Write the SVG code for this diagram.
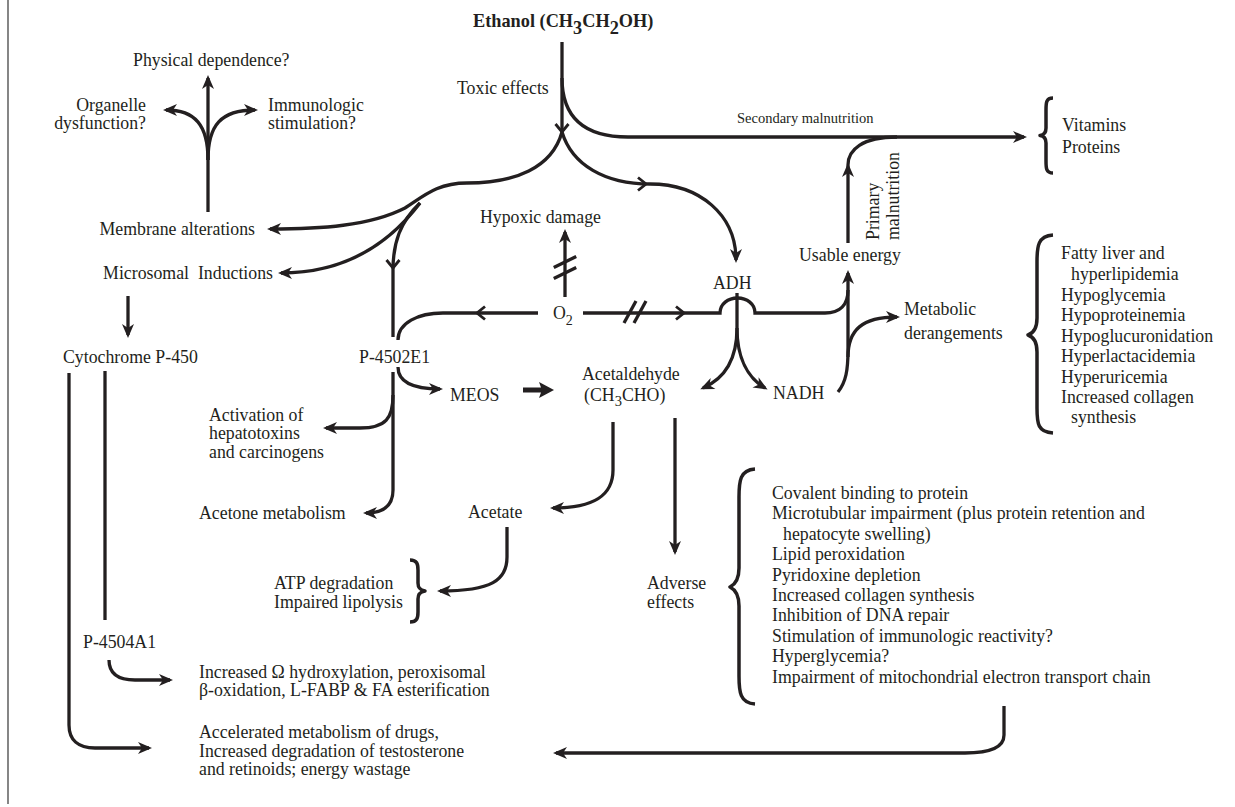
<svg xmlns="http://www.w3.org/2000/svg" xmlns:xlink="http://www.w3.org/1999/xlink" width="1235" height="807" viewBox="0 0 1235 807">
<style>
text{font-family:"Liberation Serif","Times New Roman",serif;font-size:17.8px;fill:#231f20}
.b{font-weight:bold;font-size:18.3px}
.s{font-size:14.5px}
.e{text-anchor:end}
.ln{fill:none;stroke:#231f20;stroke-width:3.3}
.ar{marker-end:url(#ah)}
.br{fill:none;stroke:#231f20;stroke-width:3.5;stroke-linejoin:round}
</style>
<defs>
<marker id="ah" viewBox="-14 -8 18 16" markerWidth="18" markerHeight="16" refX="0" refY="0" orient="auto" markerUnits="userSpaceOnUse">
<path d="M3,0 L-11,-6 L-7,0 L-11,6 z" fill="#231f20"/>
</marker>
<path id="head" d="M3,0 L-11,-6 L-7,0 L-11,6 z" fill="#231f20"/>
<path id="chev" d="M-8,-6.5 L0,0 L-8,6.5" fill="none" stroke="#231f20" stroke-width="2.8"/>
<path id="sl" d="M-6,11 L6,-11" fill="none" stroke="#231f20" stroke-width="3.3"/>
</defs>
<rect width="1235" height="807" fill="#fff"/>
<line x1="8" y1="0" x2="8" y2="804" stroke="#444" stroke-width="1.3"/>

<g id="connectors">
<path class="ln" d="M562,42 L562,132"/>
<use xlink:href="#chev" transform="translate(562,132) rotate(90)"/>
<path class="ln ar" d="M562,78 C562,118 585,137 628,137 L1024,137"/>
<path class="ln ar" d="M562,132 C552,168 515,183 467,183 C438,183 425,195 405,208 C370,226 320,229 270,229"/>
<path class="ln ar" d="M420,203 C392,240 350,273 281,273"/>
<path class="ln" d="M420,203 C400,222 393,243 393,270 L393,337"/>
<use xlink:href="#chev" transform="translate(393,268) rotate(90)"/>
<path class="ln ar" d="M562,132 C572,165 605,184 650,184 C700,184 736,215 736,260"/>
<use xlink:href="#chev" transform="translate(646,184)"/>
<path class="ln ar" d="M208,212 L208,78"/>
<path class="ln ar" d="M208,160 C208,125 195,110 166,110"/>
<path class="ln ar" d="M208,160 C208,125 221,110 255,110"/>
<path class="ln ar" d="M128,296 L128,335"/>
<path class="ln ar" d="M69,373 L69,725 C69,740 78,748 95,748 L149,748"/>
<path class="ln" d="M105,371 L105,620"/>
<path class="ln ar" d="M109,660 C109,674 118,680 135,680 L170,680"/>
<path class="ln" d="M538,313 L443,313 C418,313 398,323 398,340"/>
<use xlink:href="#chev" transform="translate(477,313) rotate(180)"/>
<path class="ln ar" d="M398,367 C398,382 412,389 440,389"/>
<path d="M523,387.5 L541,387.5 L539,382 L554,390 L539,398 L541,392.5 L523,392.5 z" fill="#231f20"/>
<path class="ln ar" d="M393,372 L393,490 C393,506 383,513 366,513"/>
<path class="ln ar" d="M393,395 C393,418 386,428 360,428 L326,428"/>
<path class="ln ar" d="M565,297 L565,232"/>
<use xlink:href="#sl" transform="translate(565,262) rotate(35)"/>
<use xlink:href="#sl" transform="translate(565,273) rotate(35)"/>
<path class="ln" d="M583,313 L720,313 C720,304 728,298 737.5,298 C747,298 755,304 755,313 L825,313 C840,313 848,305 848,290"/>
<use xlink:href="#chev" transform="translate(684,313)"/>
<use xlink:href="#sl" transform="translate(630,312)"/>
<use xlink:href="#sl" transform="translate(640,312)"/>
<path class="ln" d="M737,293 L737,328"/>
<path class="ln ar" d="M737,328 C737,358 726,378 703,388"/>
<path class="ln ar" d="M737,328 C737,358 748,378 765,388"/>
<path class="ln ar" d="M838,392 C846,382 848,370 848,350 L848,273"/>
<path class="ln ar" d="M848,357 C848,330 862,317 897,317"/>
<path class="ln" d="M848,243 L848,165 C848,150 862,137 897,137"/>
<use xlink:href="#head" transform="translate(848,166) rotate(-90)"/>
<path class="ln ar" d="M613,422 L613,470 C613,495 595,508 553,508"/>
<path class="ln ar" d="M675,418 L675,552"/>
<path class="ln ar" d="M507,527 L507,557 C507,580 492,591 440,591"/>
<path class="ln ar" d="M1004,706 L1004,735 C1004,748 990,753 965,753 L556,753"/>
</g>

<g id="braces">
<path class="br" d="M1053,98 C1046,98 1046,103 1046,110 L1046,128 C1046,133 1044,135 1040,135.5 C1044,136 1046,138 1046,143 L1046,161 C1046,168 1046,173 1053,173"/>
<path class="br" d="M1053,235 C1038,236 1037,246 1037,262 L1037,318 C1037,328 1034,333 1028,335 C1034,337 1037,342 1037,352 L1037,408 C1037,424 1038,432 1053,433"/>
<path class="br" d="M755,469 C740,470 739,481 739,497 L739,568 C739,579 736,584 730,587 C736,590 739,595 739,606 L739,676 C739,692 740,703 755,704"/>
<path class="br" d="M410,560 C417,560 418,564 418,570 L418,583 C418,588 420,590 425,591 C420,592 418,594 418,599 L418,612 C418,618 417,622 410,622"/>
</g>

<g id="n-ethanol"><text class="b" x="473" y="27">Ethanol (CH<tspan dy="7">3</tspan><tspan dy="-7">CH</tspan><tspan dy="7">2</tspan><tspan dy="-7">OH)</tspan></text></g>
<g id="n-toxic"><text x="457" y="94">Toxic effects</text></g>
<g id="n-secondary"><text class="s" x="737" y="123">Secondary malnutrition</text></g>
<g id="n-vitamins"><text x="1062" y="131">Vitamins</text><text x="1062" y="153">Proteins</text></g>
<g id="n-physical"><text x="133" y="66">Physical dependence?</text></g>
<g id="n-organelle"><text class="e" x="146" y="111">Organelle</text><text class="e" x="146" y="129">dysfunction?</text></g>
<g id="n-immuno"><text x="268" y="111">Immunologic</text><text x="268" y="129">stimulation?</text></g>
<g id="n-hypoxic"><text x="480" y="223">Hypoxic damage</text></g>
<g id="n-membrane"><text class="e" x="255" y="235">Membrane alterations</text></g>
<g id="n-microsomal"><text class="e" x="273" y="279" xml:space="preserve">Microsomal  Inductions</text></g>
<g id="n-usable"><text x="799" y="261">Usable energy</text></g>
<g id="n-primary"><text transform="translate(879,240) rotate(-90)">Primary</text><text transform="translate(899,240) rotate(-90)">malnutrition</text></g>
<g id="n-adh"><text x="713" y="289">ADH</text></g>
<g id="n-o2"><text x="553" y="319">O<tspan dy="6" font-size="14">2</tspan></text></g>
<g id="n-metabolic"><text x="904" y="315">Metabolic</text><text x="904" y="339">derangements</text></g>
<g id="n-fatty">
<text x="1061" y="259">Fatty liver and</text>
<text x="1071" y="280">hyperlipidemia</text>
<text x="1061" y="301">Hypoglycemia</text>
<text x="1061" y="321">Hypoproteinemia</text>
<text x="1061" y="342">Hypoglucuronidation</text>
<text x="1061" y="362">Hyperlactacidemia</text>
<text x="1061" y="383">Hyperuricemia</text>
<text x="1061" y="403">Increased collagen</text>
<text x="1071" y="423">synthesis</text>
</g>
<g id="n-cyto"><text x="63" y="363">Cytochrome P-450</text></g>
<g id="n-p4502e1"><text x="359" y="363">P-4502E1</text></g>
<g id="n-meos"><text x="450" y="401">MEOS</text></g>
<g id="n-acetaldehyde"><text x="582" y="380">Acetaldehyde</text><text x="584" y="401">(CH<tspan dy="5" font-size="14.5">3</tspan><tspan dy="-5">CHO)</tspan></text></g>
<g id="n-nadh"><text x="773" y="399">NADH</text></g>
<g id="n-activation"><text x="209" y="421">Activation of</text><text x="209" y="439">hepatotoxins</text><text x="209" y="458">and carcinogens</text></g>
<g id="n-acetone"><text x="199" y="519">Acetone metabolism</text></g>
<g id="n-acetate"><text x="468" y="518">Acetate</text></g>
<g id="n-atp"><text x="274" y="589">ATP degradation</text><text x="274" y="608">Impaired lipolysis</text></g>
<g id="n-adverse"><text x="647" y="589">Adverse</text><text x="647" y="608">effects</text></g>
<g id="n-covalent">
<text x="772" y="499">Covalent binding to protein</text>
<text x="772" y="519">Microtubular impairment (plus protein retention and</text>
<text x="783" y="540">hepatocyte swelling)</text>
<text x="772" y="560">Lipid peroxidation</text>
<text x="772" y="581">Pyridoxine depletion</text>
<text x="772" y="601">Increased collagen synthesis</text>
<text x="772" y="621">Inhibition of DNA repair</text>
<text x="772" y="642">Stimulation of immunologic reactivity?</text>
<text x="772" y="662">Hyperglycemia?</text>
<text x="772" y="683">Impairment of mitochondrial electron transport chain</text>
</g>
<g id="n-p4504a1"><text x="83" y="648">P-4504A1</text></g>
<g id="n-omega"><text x="199" y="678">Increased Ω hydroxylation, peroxisomal</text><text x="199" y="696">β-oxidation, L-FABP &amp; FA esterification</text></g>
<g id="n-accelerated"><text x="199" y="738">Accelerated metabolism of drugs,</text><text x="199" y="757">Increased degradation of testosterone</text><text x="199" y="775">and retinoids; energy wastage</text></g>
</svg>
